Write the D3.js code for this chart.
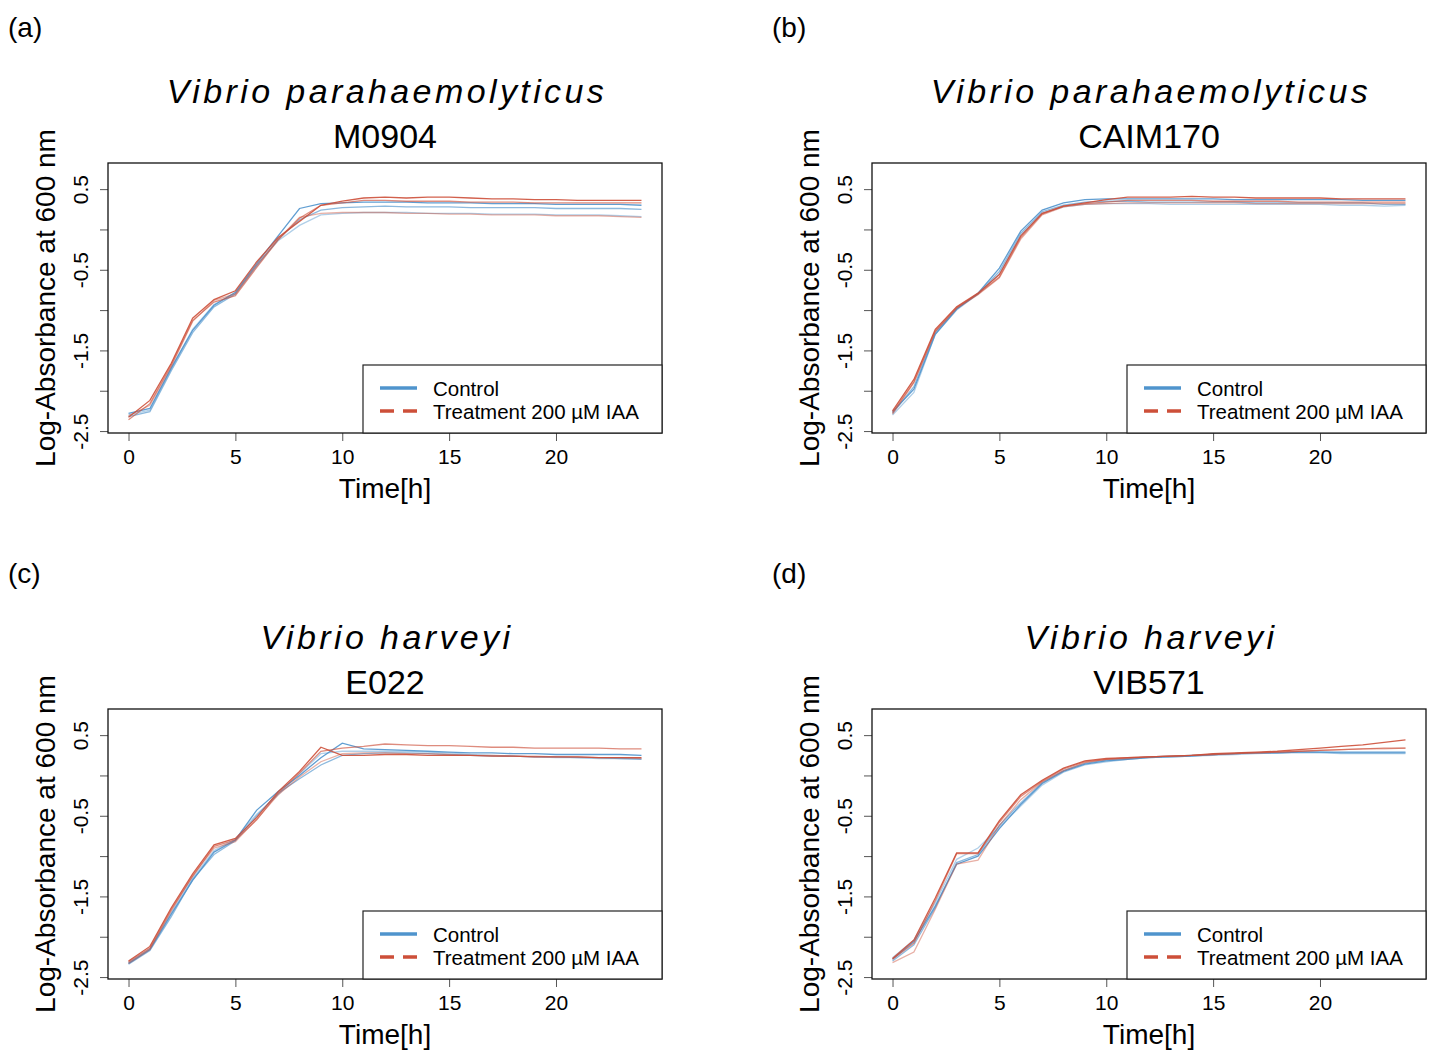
<!DOCTYPE html>
<html>
<head>
<meta charset="utf-8">
<script src="https://cdn.jsdelivr.net/npm/d3@7"></script>
<style>
  body { margin: 0; background: #fff; }
  svg { display: block; font-family: "Liberation Sans", Arial, sans-serif; }
</style>
</head>
<body>
<svg id="chart" width="1435" height="1050"></svg>
<script>
// time points (hours)
var hours = [0,1,2,3,4,5,6,7,8,9,10,11,12,13,14,15,16,17,18,19,20,21,22,23,24];

var panelLetters = ["(a)", "(b)", "(c)", "(d)"];
var speciesNames = ["Vibrio parahaemolyticus", "Vibrio parahaemolyticus", "Vibrio harveyi", "Vibrio harveyi"];
var strainNames = ["M0904", "CAIM170", "E022", "VIB571"];

var xTicks = [0, 5, 10, 15, 20];
var yTicks = [0.5, 0, -0.5, -1, -1.5, -2, -2.5];
var yLabelled = [0.5, -0.5, -1.5, -2.5];

var legendLabels = ["Control", "Treatment 200 \u00b5M IAA"];

// replicate curves, log-absorbance
var controlA = [
  [-2.28,-2.22,-1.72,-1.25,-0.94,-0.78,-0.42,-0.08,0.26,0.32,0.33,0.34,0.34,0.34,0.33,0.33,0.33,0.32,0.32,0.32,0.31,0.31,0.31,0.31,0.30],
  [-2.32,-2.26,-1.75,-1.28,-0.96,-0.80,-0.45,-0.12,0.12,0.24,0.27,0.28,0.29,0.28,0.28,0.28,0.27,0.27,0.27,0.27,0.26,0.26,0.26,0.26,0.25],
  [-2.30,-2.24,-1.72,-1.24,-0.93,-0.79,-0.44,-0.14,0.05,0.18,0.20,0.21,0.21,0.21,0.20,0.20,0.20,0.19,0.19,0.19,0.18,0.18,0.18,0.17,0.16]
];
var treatA = [
  [-2.33,-2.12,-1.66,-1.10,-0.87,-0.76,-0.40,-0.10,0.10,0.30,0.35,0.39,0.40,0.39,0.40,0.40,0.39,0.38,0.38,0.37,0.37,0.36,0.36,0.36,0.36],
  [-2.36,-2.16,-1.68,-1.13,-0.90,-0.82,-0.47,-0.13,0.14,0.30,0.33,0.36,0.36,0.35,0.35,0.35,0.34,0.34,0.34,0.33,0.33,0.33,0.33,0.33,0.33],
  [-2.31,-2.18,-1.70,-1.14,-0.88,-0.80,-0.44,-0.12,0.15,0.20,0.21,0.21,0.21,0.20,0.20,0.19,0.19,0.18,0.18,0.18,0.17,0.17,0.17,0.16,0.15]
];

var controlB = [
  [-2.26,-1.98,-1.30,-0.99,-0.79,-0.48,-0.02,0.24,0.33,0.37,0.38,0.38,0.38,0.38,0.38,0.38,0.37,0.37,0.37,0.37,0.37,0.37,0.36,0.36,0.36],
  [-2.28,-1.95,-1.28,-0.98,-0.80,-0.52,-0.05,0.22,0.30,0.34,0.35,0.35,0.34,0.34,0.34,0.34,0.34,0.33,0.33,0.33,0.33,0.33,0.33,0.31,0.31],
  [-2.30,-2.02,-1.30,-1.00,-0.80,-0.55,-0.08,0.20,0.28,0.31,0.32,0.32,0.32,0.31,0.31,0.31,0.31,0.31,0.31,0.31,0.31,0.30,0.30,0.29,0.30]
];
var treatB = [
  [-2.25,-1.86,-1.24,-0.96,-0.79,-0.56,-0.08,0.20,0.29,0.33,0.37,0.40,0.40,0.40,0.41,0.40,0.40,0.39,0.39,0.39,0.39,0.38,0.38,0.38,0.38],
  [-2.27,-1.89,-1.26,-0.97,-0.80,-0.59,-0.10,0.19,0.29,0.32,0.34,0.36,0.36,0.36,0.36,0.35,0.35,0.35,0.35,0.34,0.34,0.34,0.34,0.34,0.34],
  [-2.29,-1.90,-1.27,-0.98,-0.81,-0.60,-0.12,0.18,0.28,0.31,0.32,0.33,0.33,0.33,0.33,0.33,0.33,0.32,0.32,0.32,0.32,0.32,0.32,0.32,0.32]
];

var controlC = [
  [-2.33,-2.16,-1.72,-1.30,-0.95,-0.80,-0.43,-0.20,0.00,0.22,0.40,0.33,0.32,0.31,0.30,0.29,0.28,0.28,0.27,0.27,0.26,0.26,0.26,0.26,0.25],
  [-2.34,-2.17,-1.75,-1.29,-0.98,-0.81,-0.50,-0.22,-0.04,0.13,0.25,0.27,0.28,0.28,0.27,0.26,0.25,0.24,0.24,0.23,0.23,0.22,0.22,0.21,0.20],
  [-2.32,-2.15,-1.70,-1.27,-0.93,-0.79,-0.48,-0.24,0.02,0.27,0.30,0.30,0.30,0.30,0.29,0.28,0.26,0.25,0.24,0.23,0.22,0.22,0.21,0.21,0.21]
];
var treatC = [
  [-2.30,-2.12,-1.64,-1.22,-0.86,-0.78,-0.52,-0.20,0.05,0.35,0.25,0.25,0.26,0.26,0.25,0.25,0.25,0.24,0.24,0.23,0.23,0.23,0.22,0.22,0.22],
  [-2.31,-2.14,-1.66,-1.25,-0.88,-0.80,-0.55,-0.22,0.03,0.30,0.34,0.36,0.39,0.38,0.37,0.37,0.36,0.35,0.35,0.34,0.34,0.34,0.34,0.33,0.33],
  [-2.33,-2.16,-1.68,-1.24,-0.90,-0.82,-0.54,-0.24,-0.02,0.17,0.27,0.28,0.28,0.27,0.27,0.26,0.25,0.25,0.24,0.24,0.23,0.23,0.22,0.22,0.21]
];

var controlD = [
  [-2.28,-2.06,-1.62,-1.10,-1.00,-0.66,-0.36,-0.10,0.05,0.14,0.18,0.20,0.22,0.23,0.24,0.26,0.27,0.28,0.28,0.29,0.29,0.29,0.29,0.29,0.29],
  [-2.30,-2.10,-1.64,-1.08,-0.98,-0.62,-0.34,-0.09,0.06,0.15,0.19,0.21,0.23,0.24,0.25,0.26,0.27,0.28,0.28,0.29,0.29,0.28,0.28,0.28,0.28],
  [-2.26,-2.04,-1.58,-1.04,-0.90,-0.64,-0.38,-0.12,0.04,0.13,0.17,0.20,0.22,0.23,0.24,0.25,0.26,0.27,0.28,0.28,0.28,0.27,0.27,0.27,0.27]
];
var treatD = [
  [-2.27,-2.04,-1.52,-0.96,-0.96,-0.56,-0.24,-0.06,0.09,0.18,0.21,0.22,0.23,0.24,0.25,0.27,0.28,0.29,0.30,0.32,0.34,0.36,0.38,0.41,0.44],
  [-2.28,-2.08,-1.55,-0.97,-0.97,-0.58,-0.26,-0.07,0.08,0.17,0.20,0.22,0.23,0.24,0.25,0.26,0.27,0.28,0.29,0.30,0.31,0.32,0.33,0.34,0.34],
  [-2.32,-2.19,-1.66,-1.10,-1.05,-0.62,-0.30,-0.08,0.06,0.16,0.20,0.21,0.23,0.24,0.25,0.26,0.27,0.28,0.29,0.30,0.31,0.32,0.33,0.33,0.34]
];

var controls = [controlA, controlB, controlC, controlD];
var treatments = [treatA, treatB, treatC, treatD];

var blue = "#4F94CD";   // steelblue3
var red = "#CD4F39";    // tomato3
var replicateOpacity = [0.9, 0.65, 0.45];

var svg = d3.select("#chart");

// panel offsets in the 2x2 grid
var offsets = [[0, 0], [764, 0], [0, 546], [764, 546]];

function drawPanel(i) {
  var ox = offsets[i][0], oy = offsets[i][1];
  var box = { left: 108, right: 662, top: 163, bottom: 433 };

  var g = svg.append("g").attr("transform", "translate(" + ox + "," + oy + ")");

  // R style 4% padding around xlim c(0,24) and ylim c(-2.4,0.7)
  var x = d3.scaleLinear().domain([-0.96, 24.96]).range([box.left, box.right]);
  var y = d3.scaleLinear().domain([-2.524, 0.824]).range([box.bottom, box.top]);

  g.append("text")
    .attr("x", 8).attr("y", 37)
    .style("font-size", "28px")
    .text(panelLetters[i]);

  g.append("text")
    .attr("x", (box.left + box.right) / 2 + 2).attr("y", 103)
    .attr("text-anchor", "middle")
    .style("font-size", "34px")
    .style("font-style", "italic")
    .style("letter-spacing", "3.4px")
    .text(speciesNames[i]);

  g.append("text")
    .attr("x", (box.left + box.right) / 2).attr("y", 148)
    .attr("text-anchor", "middle")
    .style("font-size", "34px")
    .text(strainNames[i]);

  var line = d3.line()
    .x(function (d, k) { return x(hours[k]); })
    .y(function (d) { return y(d); });

  var curves = g.append("g");
  controls[i].forEach(function (rep, k) {
    curves.append("path")
      .attr("d", line(rep))
      .attr("fill", "none")
      .attr("stroke", blue)
      .attr("stroke-width", 1.3)
      .attr("stroke-opacity", replicateOpacity[k]);
  });
  treatments[i].forEach(function (rep, k) {
    curves.append("path")
      .attr("d", line(rep))
      .attr("fill", "none")
      .attr("stroke", red)
      .attr("stroke-width", 1.3)
      .attr("stroke-opacity", replicateOpacity[k]);
  });

  // x axis
  var xAxis = g.append("g")
    .attr("transform", "translate(0," + box.bottom + ")")
    .call(d3.axisBottom(x).tickValues(xTicks).tickSize(8).tickFormat(function (d) { return String(d); }));
  xAxis.select(".domain").remove();
  xAxis.selectAll(".tick line").attr("stroke", "#555");
  xAxis.selectAll(".tick text")
    .attr("y", 31).attr("dy", null)
    .attr("fill", "#000")
    .style("font-size", "21px")
    .style("font-family", "Liberation Sans, Arial, sans-serif");

  // y axis
  var yAxis = g.append("g")
    .attr("transform", "translate(" + box.left + ",0)")
    .call(d3.axisLeft(y).tickValues(yTicks).tickSize(8)
      .tickFormat(function (d) { return yLabelled.indexOf(d) >= 0 ? String(d) : ""; }));
  yAxis.select(".domain").remove();
  yAxis.selectAll(".tick line").attr("stroke", "#555");
  yAxis.selectAll(".tick text")
    .attr("transform", "rotate(-90)")
    .attr("x", 0).attr("y", -20).attr("dy", null)
    .attr("text-anchor", "middle")
    .attr("fill", "#000")
    .style("font-size", "21px")
    .style("font-family", "Liberation Sans, Arial, sans-serif");

  // axis titles
  g.append("text")
    .attr("transform", "translate(55," + (box.top + box.bottom) / 2 + ") rotate(-90)")
    .attr("text-anchor", "middle")
    .style("font-size", "28px")
    .text("Log-Absorbance at 600 nm");

  g.append("text")
    .attr("x", (box.left + box.right) / 2).attr("y", 498)
    .attr("text-anchor", "middle")
    .style("font-size", "28px")
    .text("Time[h]");

  // plot box
  g.append("rect")
    .attr("x", box.left).attr("y", box.top)
    .attr("width", box.right - box.left).attr("height", box.bottom - box.top)
    .attr("fill", "none").attr("stroke", "#111").attr("stroke-width", 1.3);

  // legend
  var lg = g.append("g").attr("transform", "translate(" + (box.right - 299) + "," + (box.bottom - 68) + ")");
  lg.append("rect")
    .attr("width", 299).attr("height", 68)
    .attr("fill", "#fff").attr("stroke", "#222").attr("stroke-width", 1.2);
  lg.append("line")
    .attr("x1", 17).attr("x2", 54).attr("y1", 23).attr("y2", 23)
    .attr("stroke", blue).attr("stroke-width", 3.5);
  lg.append("line")
    .attr("x1", 17).attr("x2", 54).attr("y1", 46).attr("y2", 46)
    .attr("stroke", red).attr("stroke-width", 3.5)
    .attr("stroke-dasharray", "14 9");
  lg.selectAll("text.leg")
    .data(legendLabels)
    .enter().append("text")
    .attr("class", "leg")
    .attr("x", 70)
    .attr("y", function (d, k) { return 31 + k * 23; })
    .style("font-size", "20.5px")
    .text(function (d) { return d; });
}

[0, 1, 2, 3].forEach(drawPanel);
</script>
</body>
</html>
